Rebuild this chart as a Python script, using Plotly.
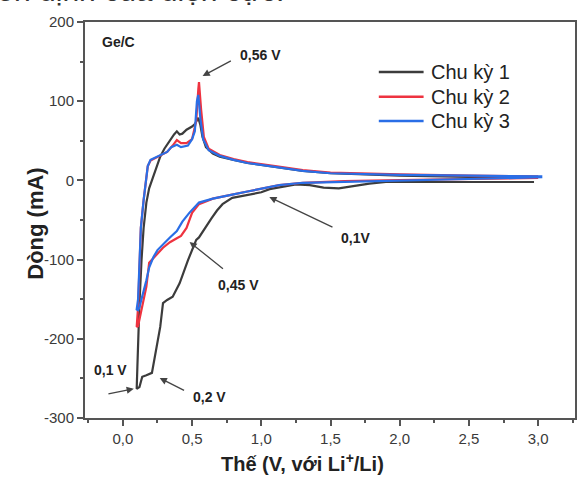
import plotly.graph_objects as go

# ---- data (V vs Li+/Li, mA) ----
# Cycle 1 (black)
c1_v = [2.97, 2.5, 2.0, 1.9, 1.78, 1.65, 1.56, 1.45, 1.35, 1.25, 1.15, 1.06, 1.0, 0.9, 0.79, 0.72, 0.68,
        0.64, 0.60, 0.55, 0.53, 0.47, 0.41, 0.36, 0.32, 0.29, 0.27, 0.23, 0.21, 0.17, 0.14, 0.12, 0.10,
        0.105, 0.11, 0.12, 0.135, 0.15, 0.17, 0.19, 0.21, 0.24, 0.27, 0.30, 0.34, 0.37, 0.39, 0.41, 0.43,
        0.46, 0.50, 0.52, 0.545, 0.56, 0.575, 0.60, 0.65, 0.7, 0.8, 0.9, 1.1, 1.3, 1.5, 2.0, 2.5, 2.97]
c1_i = [-2, -2, -1.5, -2, -4, -8, -10, -9, -6, -5, -8, -11, -15, -18, -22, -30, -38,
        -48, -59, -72, -75, -101, -130, -147, -151, -155, -185, -227, -243, -246, -248, -261, -263,
        -235, -200, -155, -100, -60, -28, -10, 0, 16, 30, 40, 51, 58, 62, 58, 59,
        64, 68, 71, 79, 70, 55, 42, 34, 30, 26, 22, 17, 12, 9, 6, 4.5, 4]

# Cycle 2 (red)
c2_v = [3.0, 2.5, 2.0, 1.6, 1.3, 1.13, 1.0, 0.9, 0.79, 0.65, 0.55, 0.50, 0.46, 0.42, 0.39, 0.34, 0.29,
        0.24, 0.19, 0.17, 0.15, 0.13, 0.12, 0.11, 0.10,
        0.11, 0.12, 0.13, 0.15, 0.17, 0.18, 0.20, 0.25, 0.32, 0.36, 0.39, 0.42, 0.46, 0.50, 0.53,
        0.545, 0.55, 0.565, 0.585, 0.62, 0.7, 0.8, 0.9, 1.1, 1.3, 1.5, 2.0, 2.5, 3.0]
c2_i = [3, 2, 0.5, -1, -3, -6, -11, -14, -18, -23, -30, -41, -60, -70, -73, -78, -85,
        -95, -104, -134, -152, -168, -178, -184, -185,
        -160, -110, -60, -25, 0, 18, 25, 30, 36, 44, 51, 47, 47, 52, 75,
        115, 124, 90, 55, 40, 32, 27, 23, 18, 13, 10, 7.5, 6, 5]

# Cycle 3 (blue)
c3_v = [3.03, 2.5, 2.0, 1.6, 1.3, 1.13, 1.0, 0.9, 0.79, 0.65, 0.55, 0.48, 0.43, 0.39, 0.34, 0.29,
        0.25, 0.22, 0.19, 0.17, 0.15, 0.13, 0.12, 0.11, 0.10,
        0.11, 0.12, 0.13, 0.15, 0.17, 0.18, 0.20, 0.25, 0.32, 0.35, 0.39, 0.42, 0.47, 0.50, 0.52,
        0.535, 0.545, 0.56, 0.58, 0.62, 0.7, 0.8, 0.9, 1.1, 1.3, 1.5, 2.0, 2.5, 3.03]
c3_i = [4, 2, 0, -1, -3, -6, -11, -14, -18, -23, -28, -41, -52, -64, -72, -81,
        -88, -97, -110, -126, -140, -153, -160, -164, -163,
        -150, -100, -60, -25, 0, 18, 26, 30, 36, 42, 45, 42, 44, 52, 62,
        100, 108, 78, 52, 38, 31, 26, 22, 17, 12, 9, 7, 6, 5]

series_names = ["Chu kỳ 1", "Chu kỳ 2", "Chu kỳ 3"]
series_colors = ["#3c3c3c", "#ee3340", "#2a6ee6"]

x_ticks = [0.0, 0.5, 1.0, 1.5, 2.0, 2.5, 3.0]
x_ticktext = ["0,0", "0,5", "1,0", "1,5", "2,0", "2,5", "3,0"]
y_ticks = [-300, -200, -100, 0, 100, 200]
y_ticktext = ["-300", "-200", "-100", "0", "100", "200"]

fig = go.Figure()
for v, i, name, col in zip([c1_v, c2_v, c3_v], [c1_i, c2_i, c3_i], series_names, series_colors):
    fig.add_trace(go.Scatter(x=v, y=i, mode="lines", name=name,
                             line=dict(color=col, width=2.2), showlegend=False))

FONT = "Liberation Sans, Arial"
axcol = "#555555"
tickfont = dict(family=FONT, size=15, color="#3a3a3a")
fig.update_xaxes(range=[-0.2734, 3.266], tickvals=x_ticks, ticktext=x_ticktext,
                 showline=True, linecolor=axcol, linewidth=2, mirror=True,
                 ticks="outside", ticklen=6, tickwidth=2, tickcolor=axcol,
                 minor=dict(dtick=0.25, tick0=0, ticks="outside", ticklen=3, tickwidth=1.5, tickcolor=axcol),
                 showgrid=False, zeroline=False, tickfont=tickfont)
fig.update_yaxes(range=[-300, 200], tickvals=y_ticks, ticktext=y_ticktext,
                 showline=True, linecolor=axcol, linewidth=2, mirror=True,
                 ticks="outside", ticklen=6, tickwidth=2, tickcolor=axcol,
                 minor=dict(dtick=50, tick0=0, ticks="outside", ticklen=3, tickwidth=1.5, tickcolor=axcol),
                 showgrid=False, zeroline=False, tickfont=tickfont)

lblfont = dict(family=FONT, size=14, color="#222222")
ann = []
shapes = []
# arrows (tail -> head)
arrows = [((0.791, 152), (0.576, 131.8)),
          ((1.525, -60), (1.058, -21)),
          ((0.734, -113), (0.482, -77.8)),
          ((-0.115, -270), (0.079, -263)),
          ((0.453, -266), (0.266, -249.5))]
for (tx, ty), (hx, hy) in arrows:
    ann.append(dict(x=hx, y=hy, ax=tx, ay=ty, xref="x", yref="y", axref="x", ayref="y",
                    text="", showarrow=True, arrowhead=2, arrowsize=1.1, arrowwidth=1.3,
                    arrowcolor="#444444"))
labels = [("0,56 V", 0.993, 158), ("0,1V", 1.683, -72.7), ("0,45 V", 0.835, -132),
          ("0,1 V", -0.086, -239), ("0,2 V", 0.626, -273)]
for t, x, y in labels:
    ann.append(dict(x=x, y=y, xref="x", yref="y", text="<b>" + t + "</b>", showarrow=False,
                    font=lblfont))
ann.append(dict(x=-0.165, y=175, xref="x", yref="y", xanchor="left", text="<b>Ge/C</b>",
                showarrow=False, font=lblfont))
# axis titles
ann.append(dict(x=-0.130, y=0.49, xref="paper", yref="paper", textangle=-90,
                text="<b>Dòng (mA)</b>", showarrow=False,
                font=dict(family=FONT, size=22, color="#222222")))
ann.append(dict(x=0.443, y=-0.150, xref="paper", yref="paper",
                text="<b>Thế (V, với Li<sup>+</sup>/Li)</b>", showarrow=False,
                font=dict(family=FONT, size=20, color="#222222")))
# custom legend (longer line samples as in the reference)
leg_y = [0.874, 0.811, 0.750]
for name, col, ly in zip(series_names, series_colors, leg_y):
    shapes.append(dict(type="line", xref="paper", yref="paper", x0=0.5996, x1=0.691, y0=ly, y1=ly,
                       line=dict(color=col, width=2.5)))
    ann.append(dict(x=0.703, y=ly, xref="paper", yref="paper", xanchor="left", yanchor="middle",
                    text=name, showarrow=False, font=dict(family=FONT, size=20, color="#222222")))
# cropped caption line at the top
ann.append(dict(x=0.411, y=1.080, xref="paper", yref="paper", xanchor="right", yanchor="middle",
                text="tính ổn định của điện cực.", showarrow=False,
                font=dict(family=FONT, size=30, color="#333333")))

fig.update_layout(
    width=578, height=482,
    margin=dict(l=85, r=1, t=22, b=64),
    paper_bgcolor="white", plot_bgcolor="white",
    showlegend=False,
    annotations=ann,
    shapes=shapes,
)

fig.write_html("out.html")
